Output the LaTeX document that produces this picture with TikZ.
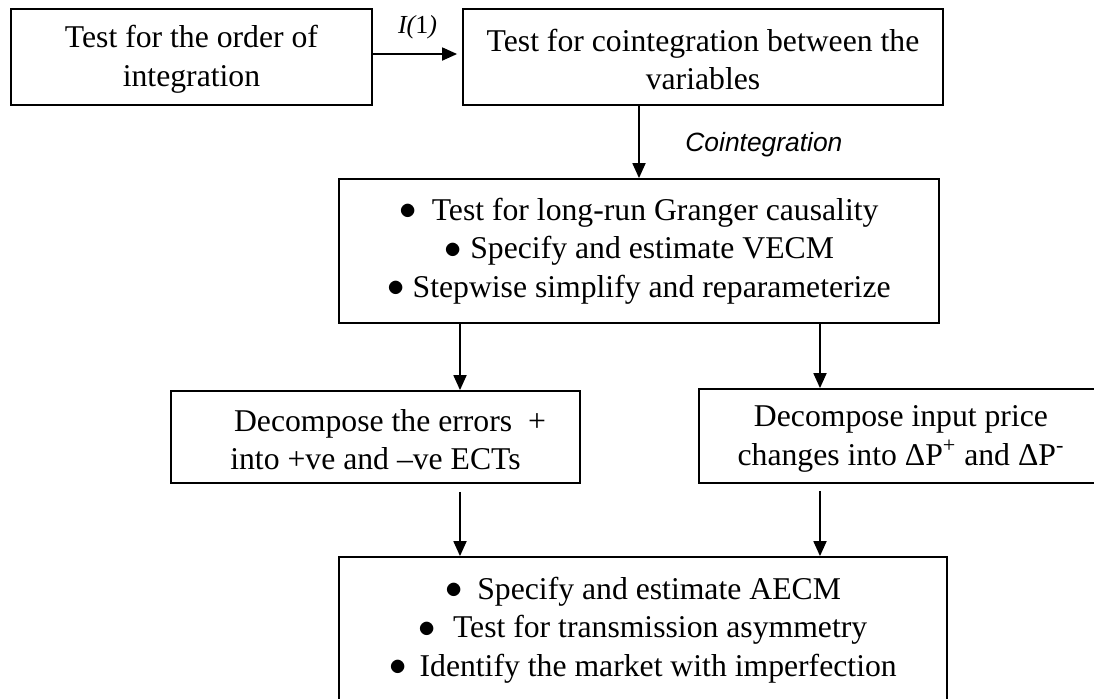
\documentclass[tikz,border=0pt]{standalone}
\usepackage{fontspec}
\setmainfont{Liberation Serif}
\setsansfont{Liberation Sans}
\usetikzlibrary{arrows.meta}
\newcommand\mybul{\raisebox{0.02em}{$\bullet$}}
\begin{document}
\begin{tikzpicture}[x=0.5pt,y=-0.5pt,
  box/.style={draw, line width=0.9pt, align=center, inner sep=0pt,
    font=\fontsize{15.85}{19.3}\selectfont},
  arr/.style={line width=0.9pt, -{Triangle[width=6.5pt,length=7.5pt]}},
  lbl/.style={inner sep=0pt}
]
\useasboundingbox (0,0) rectangle (1094,698);
\clip (0,0) rectangle (1094,698);
\node[box, minimum width=180.5pt, minimum height=48pt] (b1) at (191.5,57)
  {\strut Test for the order of\\integration};
\node[box, minimum width=240pt, minimum height=48pt] (b2) at (703,57)
  {\strut Test for cointegration between the\\variables};
\node[box, minimum width=300pt, minimum height=72pt] (b3) at (639,251)
  {\mybul\hspace{7.5pt}Test for long-run Granger causality\\
   \mybul\hspace{4.5pt}Specify and estimate VECM\\
   \mybul\hspace{4pt}Stepwise simplify and reparameterize};
\node[box, minimum width=204.5pt, minimum height=46pt] (b4) at (375.5,437)
  {\strut\hspace*{14.5pt}Decompose the errors~~+\\into +ve and –ve ECTs};
\node[box, minimum width=202pt, minimum height=47pt] (b5) at (901,436)
  {\strut Decompose input price\\changes into ΔP\textsuperscript{+} and ΔP\textsuperscript{-}};
\node[box, minimum width=304pt, minimum height=73pt] (b6) at (643,630)
  {\mybul\hspace{7.5pt}Specify and estimate AECM\\
   \mybul\hspace{8.5pt}Test for transmission asymmetry\\
   \mybul\hspace{6.5pt}Identify the market with imperfection};

\coordinate (c1) at (460,0);
\coordinate (c2) at (820,0);

\draw[arr, shorten >=2.5pt] ([yshift=1.5pt]b1.east) -- ([yshift=1.5pt]b2.west)
  node[lbl, midway, above=7pt, font=\fontsize{13}{15}\selectfont] (l1) {\itshape I(\upshape 1\itshape )};
\draw[arr] (b3.north |- b2.south) -- (b3.north);
\node[lbl, anchor=west, font=\sffamily\itshape\fontsize{13.2}{15}\selectfont] (l2) at (685,145) {Cointegration};
\draw[arr] (b3.south -| c1) -- (b4.north -| c1);
\draw[arr] (b3.south -| c2) -- (b5.north -| c2);
\draw[arr, shorten <=4pt] (b4.south -| c1) -- (b6.north -| c1);
\draw[arr, shorten <=3.5pt] (b5.south -| c2) -- (b6.north -| c2);
\end{tikzpicture}
\end{document}
